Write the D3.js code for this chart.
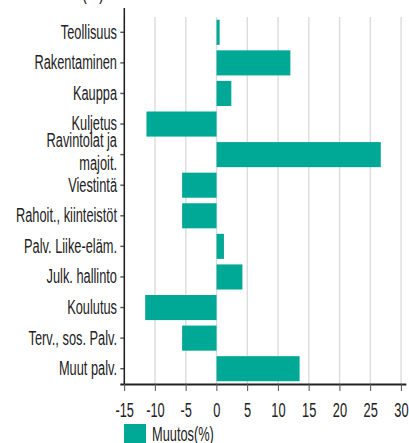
<!DOCTYPE html>
<html>
<head>
<meta charset="utf-8">
<script src="https://cdn.jsdelivr.net/npm/d3@7"></script>
<style>
  body { margin: 0; background: #fff; }
  svg { display: block; font-family: "Liberation Sans", Arial, sans-serif; }
</style>
</head>
<body>
<div id="chart"></div>
<script>
var categories = ["Teollisuus", "Rakentaminen", "Kauppa", "Kuljetus", "Ravintolat ja majoit.",
    "Viestintä", "Rahoit., kiinteistöt", "Palv. Liike-eläm.", "Julk. hallinto", "Koulutus",
    "Terv., sos. Palv.", "Muut palv."];
var changes = [0.5, 12.0, 2.4, -11.4, 26.7, -5.6, -5.6, 1.2, 4.2, -11.6, -5.6, 13.5];
var xTicks = [-15, -10, -5, 0, 5, 10, 15, 20, 25, 30];
var seriesName = "Muutos(%)";
var wrapped = {"Ravintolat ja majoit.": ["Ravintolat ja", "majoit."]};

var barColor = "#00a896",
    textColor = "#222";

// the original is squeezed sideways, so draw wide and let the viewBox squash it
var sx = 0.64, k = 1 / sx;
var width = 409, height = 443;

var svg = d3.select("#chart").append("svg")
    .attr("width", width)
    .attr("height", height)
    .attr("viewBox", "0 0 " + (width * k) + " " + height)
    .attr("preserveAspectRatio", "none");

var x = d3.scaleLinear()
    .domain([-15.7, 30.8])
    .range([120 * k, 406 * k]);

var y = d3.scaleBand()
    .domain(categories)
    .range([17, 384])
    .paddingInner(0.18)
    .paddingOuter(0.09);

// cut off title at the very top
svg.append("text")
    .attr("x", 93 * k)
    .attr("y", -1)
    .attr("text-anchor", "middle")
    .style("font-size", "22px")
    .style("fill", textColor)
    .text("(%)");

// grid
svg.append("g")
    .selectAll("line")
    .data(xTicks)
    .enter().append("line")
    .attr("x1", function(d) { return x(d); })
    .attr("x2", function(d) { return x(d); })
    .attr("y1", 17)
    .attr("y2", 384)
    .attr("stroke", "#dcdcdc")
    .attr("stroke-width", 2.2);

// bars
svg.append("g")
    .selectAll("rect")
    .data(changes)
    .enter().append("rect")
    .attr("x", function(d) { return x(Math.min(0, d)); })
    .attr("width", function(d) { return Math.abs(x(d) - x(0)); })
    .attr("y", function(d, i) { return y(categories[i]); })
    .attr("height", y.bandwidth())
    .attr("fill", barColor);

// bottom axis
var xAxis = svg.append("g")
    .attr("transform", "translate(0,384)")
    .call(d3.axisBottom(x).tickValues(xTicks).tickSize(7).tickSizeOuter(0).tickPadding(12)
        .tickFormat(function(d) { return String(d); }));
xAxis.select(".domain").attr("stroke", textColor).attr("stroke-width", 2.2);
xAxis.selectAll(".tick line").attr("stroke", "#555").attr("stroke-width", 1.6);
xAxis.selectAll("text")
    .style("font-family", "Liberation Sans, Arial, sans-serif")
    .style("font-size", "20px")
    .style("fill", textColor);

// left axis
var yAxis = svg.append("g")
    .attr("transform", "translate(" + x(-15) + ",0)")
    .call(d3.axisLeft(y).tickSize(4 * k).tickSizeOuter(0).tickFormat(""));
yAxis.select(".domain").remove();
yAxis.selectAll(".tick line").attr("stroke", "#555").attr("stroke-width", 1.4);
yAxis.append("line")
    .attr("x1", 0).attr("x2", 0)
    .attr("y1", 8).attr("y2", 384)
    .attr("stroke", textColor)
    .attr("stroke-width", 2.4);

var labels = svg.append("g")
    .selectAll("text")
    .data(categories)
    .enter().append("text")
    .attr("x", 117 * k)
    .attr("y", function(d) { return y(d) + y.bandwidth() / 2; })
    .attr("text-anchor", "end")
    .style("font-size", "20px")
    .style("fill", textColor);

labels.each(function(d) {
    var t = d3.select(this);
    var lines = wrapped[d] || [d];
    if (lines.length == 1) {
        t.attr("dy", "0.32em").text(d);
    } else {
        lines.forEach(function(line, i) {
            t.append("tspan")
                .attr("x", 117 * k)
                .attr("dy", i == 0 ? "-0.38em" : "1.15em")
                .text(line);
        });
    }
});

// legend
var legend = svg.append("g");
legend.append("rect")
    .attr("x", 124 * k)
    .attr("y", 424)
    .attr("width", 22 * k)
    .attr("height", 24)
    .attr("fill", barColor);
legend.append("text")
    .attr("x", 152 * k)
    .attr("y", 441)
    .style("font-size", "20px")
    .style("fill", textColor)
    .text(seriesName);
</script>
</body>
</html>
